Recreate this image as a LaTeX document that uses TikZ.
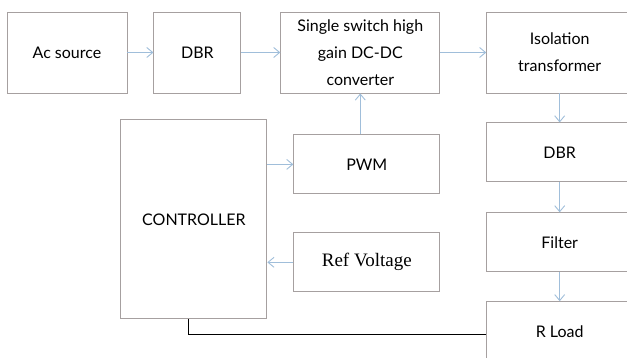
\documentclass[tikz,border=0pt]{standalone}
\usepackage{fontspec}
\setmainfont{Lato}
\newfontfamily\refserif{Liberation Serif}
\usepackage{xcolor}
\usetikzlibrary{arrows.meta,positioning}
\definecolor{boxgrey}{RGB}{166,160,160}
\definecolor{arrblue}{RGB}{160,190,218}

\begin{document}
\begin{tikzpicture}[
  font=\fontsize{16}{27}\selectfont,
  box/.style={draw=boxgrey, line width=0.9pt, align=center, inner sep=0pt,
              fill=white, minimum width=146pt, minimum height=59pt},
  tall/.style={minimum height=81pt},
  arr/.style={-{Straight Barb[length=6pt,width=10pt]}, arrblue, line width=0.9pt},
  fb/.style={black, line width=1pt}
]
\useasboundingbox (0,0) rectangle (627pt,-358pt);
\clip (0,0) rectangle (627pt,-358pt);
% top row
\node[box, tall, minimum width=120pt] (acsrc) at (67pt,-52.5pt) {Ac source};
\node[box, tall, minimum width=87pt, right=26pt of acsrc] (dbrin) {DBR};
\node[box, tall, minimum width=159pt, right=39pt of dbrin] (conv)
  {Single switch high\\gain DC-DC\\converter};
\node[box, tall, right=46pt of conv] (iso) {Isolation\\transformer};
% output column
\node[box, below=29pt of iso] (dbrout) {DBR};
\node[box, below=30pt of dbrout] (filter) {Filter};
\node[box, below=29pt of filter] (rload) {R Load};
% control part
\node[box, anchor=north east] (pwm) at ([yshift=-41pt]conv.south east) {PWM};
\node[box, below=38pt of pwm] (ref) {\refserif\fontsize{19}{20}\selectfont Ref Voltage};
\node[box, minimum height=199pt, anchor=north east] (ctrl)
  at ([xshift=-26pt,yshift=15pt]pwm.north west) {CONTROLLER};
\draw[arr] (acsrc) -- (dbrin);
\draw[arr] (dbrin) -- (conv);
\draw[arr] (conv) -- (iso);
\draw[arr] (iso) -- (dbrout);
\draw[arr] (dbrout) -- (filter);
\draw[arr] (filter) -- (rload);
\draw[arr] (pwm.north -| conv.south) -- (conv.south);
\draw[arr] (ctrl.east |- pwm) -- (pwm.west);
\draw[arr] (ref.west) -- (ctrl.east |- ref);
\draw[fb] ([xshift=-5pt]ctrl.south) |- ([yshift=-3pt]rload.west);
\end{tikzpicture}
\end{document}
